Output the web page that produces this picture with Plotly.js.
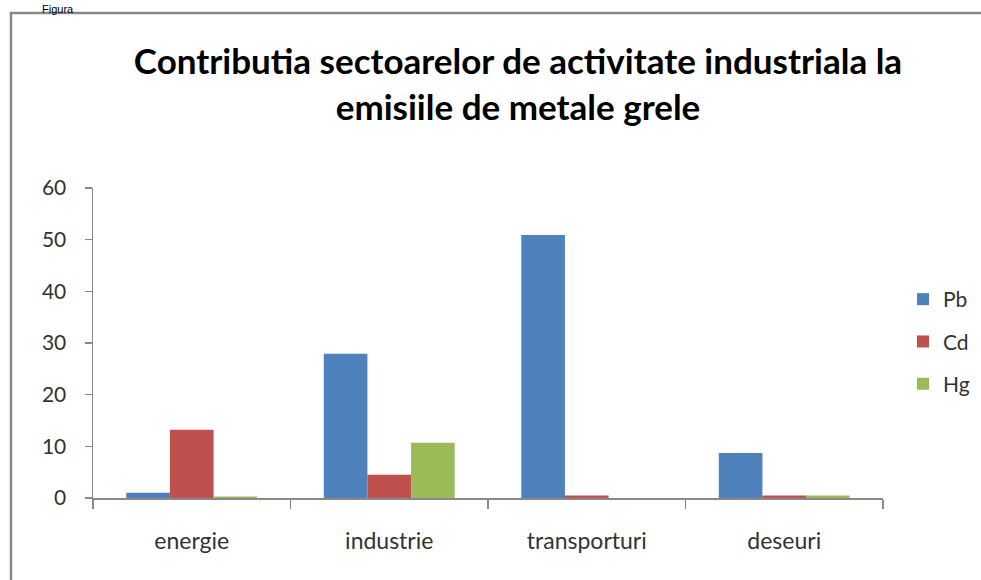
<!DOCTYPE html>
<html><head><meta charset="utf-8">
<script src="https://cdn.plot.ly/plotly-3.0.1.min.js"></script>
<style>html,body{margin:0;padding:0;background:#fff;}#chart{width:981px;height:580px;}</style>
</head><body><div id="chart"></div>
<script>
const categories = ["energie", "industrie", "transporturi", "deseuri"];
const seriesNames = ["Pb", "Cd", "Hg"];
const pbValues = [1.0, 27.9, 50.9, 8.7];
const cdValues = [13.2, 4.5, 0.5, 0.5];
const hgValues = [0.3, 10.7, 0.0, 0.5];
const yTicks = [0, 10, 20, 30, 40, 50, 60];
const colors = ["#4F81BD", "#C0504D", "#9BBB59"];
const titleText = "Contributia sectoarelor de activitate industriala la<br>emisiile de metale grele";

const F = "Lato, 'Open Sans', sans-serif";
const allValues = [pbValues, cdValues, hgValues];
const traces = seriesNames.map((n, i) => ({
  type: "bar", name: n, x: categories, y: allValues[i],
  marker: {color: colors[i], line: {width: 0}},
  legendgroup: "g" + i, hoverinfo: "x+y+name"
}));

const L = 93, R = 883, T = 188, B = 498;
const pxX = p => (p - L) / (R - L);
const pxY = p => (B - p) / (B - T);

const layout = {
  width: 981, height: 580,
  margin: {l: L, r: 981 - R, t: T, b: 580 - B, autoexpand: false},
  paper_bgcolor: "#fff", plot_bgcolor: "#fff",
  font: {family: F, color: "#333", size: 21},
  barmode: "group", bargap: 0.337, bargroupgap: 0,
  title: {text: titleText, font: {family: F, size: 35, color: "#000", weight: "bold"},
          xref: "container", x: 518 / 981, xanchor: "center",
          yref: "container", y: 1 - 74 / 580, yanchor: "middle"},
  xaxis: {type: "category", showline: true, linecolor: "#898989", linewidth: 1.5,
          ticks: "outside", tickson: "boundaries", ticklen: 9, tickcolor: "#898989", tickwidth: 1.5,
          ticklabelstandoff: 22, tickfont: {family: F, size: 23, color: "#333"},
          showgrid: false, zeroline: false, fixedrange: true},
  yaxis: {range: [0, 60], tickvals: yTicks, ticktext: yTicks.map(String),
          showline: true, linecolor: "#898989", linewidth: 1.5,
          ticks: "outside", ticklen: 7, tickcolor: "#898989", tickwidth: 1.5,
          ticklabelstandoff: 14, tickfont: {family: F, size: 21, color: "#333"},
          showgrid: false, zeroline: false, fixedrange: true},
  legend: {x: pxX(903), xanchor: "left", y: pxY(279), yanchor: "top",
           traceorder: "grouped", tracegroupgap: 12,
           font: {family: F, size: 21, color: "#333"}, itemwidth: 30, bgcolor: "rgba(0,0,0,0)"},
  shapes: [{type: "rect", xref: "paper", yref: "paper",
            x0: pxX(11), x1: pxX(1000), y0: pxY(620), y1: pxY(13),
            line: {color: "#888", width: 2.5}, fillcolor: "rgba(0,0,0,0)", layer: "below"}],
  annotations: [{text: "Figura", xref: "paper", yref: "paper", x: pxX(40), xanchor: "left",
                 y: pxY(1), yanchor: "top", showarrow: false,
                 font: {family: "Liberation Sans, Arial, sans-serif", size: 11, color: "#000"}}],
  showlegend: true
};
Plotly.newPlot("chart", traces, layout, {displayModeBar: false, staticPlot: true});
</script></body></html>
